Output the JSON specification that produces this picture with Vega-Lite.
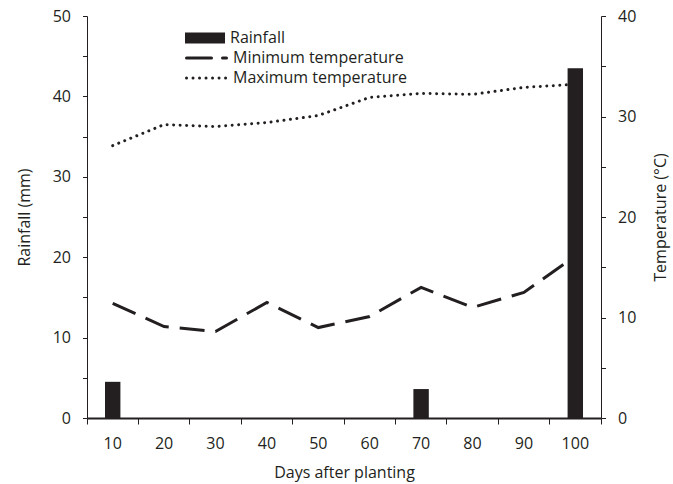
{
  "$schema": "https://vega.github.io/schema/vega-lite/v6.json",
  "width": 514,
  "height": 402,
  "autosize": {"type": "none"},
  "padding": {"left": 87, "top": 16, "right": 72, "bottom": 66},
  "background": "white",
  "config": {
    "view": {"stroke": null},
    "font": "Open Sans",
    "axis": {
      "grid": false,
      "domainColor": "#231f20",
      "tickColor": "#231f20",
      "labelColor": "#231f20",
      "titleColor": "#231f20",
      "labelFont": "Open Sans",
      "titleFont": "Open Sans",
      "labelFontSize": 16,
      "titleFontSize": 16,
      "titleFontWeight": "normal",
      "tickSize": 5
    },
    "legend": {
      "labelFont": "Open Sans",
      "labelFontSize": 16,
      "labelColor": "#231f20",
      "labelLimit": 0
    }
  },
  "data": {
    "values": [
      {"day": 10, "rainfall": 4.5, "tmin": 11.4, "tmax": 27.1},
      {"day": 20, "rainfall": 0, "tmin": 9.1, "tmax": 29.2},
      {"day": 30, "rainfall": 0, "tmin": 8.6, "tmax": 29.0},
      {"day": 40, "rainfall": 0, "tmin": 11.5, "tmax": 29.4},
      {"day": 50, "rainfall": 0, "tmin": 9.0, "tmax": 30.1},
      {"day": 60, "rainfall": 0, "tmin": 10.1, "tmax": 31.9},
      {"day": 70, "rainfall": 3.6, "tmin": 13.0, "tmax": 32.3},
      {"day": 80, "rainfall": 0, "tmin": 11.0, "tmax": 32.2},
      {"day": 90, "rainfall": 0, "tmin": 12.5, "tmax": 32.9},
      {"day": 100, "rainfall": 43.5, "tmin": 16.1, "tmax": 33.2}
    ]
  },
  "layer": [
    {
      "layer": [
        {
          "mark": {"type": "line", "stroke": "#231f20", "strokeWidth": 3, "strokeCap": "butt"},
          "encoding": {
            "x": {
              "field": "day",
              "type": "ordinal",
              "scale": {"paddingInner": 0, "paddingOuter": 0},
              "axis": {
                "orient": "bottom",
                "labels": false,
                "domain": false,
                "title": null,
                "bandPosition": 1,
                "tickExtra": true,
                "tickSize": 6
              }
            },
            "y": {
              "field": "tmin",
              "type": "quantitative",
              "scale": {"domain": [0, 40]},
              "axis": {
                "orient": "right",
                "title": "Temperature (°C)",
                "titleAngle": 270,
                "titlePadding": 33,
                "labelPadding": 12,
                "tickSize": 4.5,
                "values": [0, 5, 10, 15, 20, 25, 30, 35, 40],
                "labelExpr": "datum.value % 10 === 0 ? datum.label : ''",
                "encode": {"ticks": {"update": {"x": {"value": -4.5}}}}
              }
            },
            "strokeDash": {
              "datum": "Minimum temperature",
              "type": "nominal",
              "scale": {
                "domain": ["Minimum temperature", "Maximum temperature"],
                "range": [[25, 11], [0.01, 6.5]]
              },
              "legend": {
                "orient": "none",
                "legendX": 98,
                "legendY": 32,
                "title": null,
                "padding": 0,
                "rowPadding": 0,
                "clipHeight": 20,
                "symbolType": "stroke",
                "symbolSize": 1600,
                "symbolStrokeWidth": 3,
                "symbolStrokeColor": "#231f20",
                "labelOffset": 5,
                "encode": {"symbols": {"update": {"strokeCap": {"value": "round"}}}}
              }
            }
          }
        },
        {
          "mark": {"type": "line", "stroke": "#231f20", "strokeWidth": 3, "strokeCap": "round"},
          "encoding": {
            "x": {"field": "day", "type": "ordinal"},
            "y": {"field": "tmax", "type": "quantitative"},
            "strokeDash": {"datum": "Maximum temperature", "type": "nominal"}
          }
        }
      ]
    },
    {
      "mark": {"type": "bar", "width": {"band": 0.3}},
      "encoding": {
        "x": {
          "field": "day",
          "type": "ordinal",
          "scale": {"paddingInner": 0, "paddingOuter": 0},
          "axis": {
            "orient": "bottom",
            "title": "Days after planting",
            "labelAngle": 0,
            "ticks": false,
            "domainWidth": 2,
            "labelPadding": 17,
            "titlePadding": 13
          }
        },
        "y": {
          "field": "rainfall",
          "type": "quantitative",
          "scale": {"domain": [0, 50]},
          "axis": {
            "orient": "left",
            "title": "Rainfall (mm)",
            "titlePadding": 20,
            "labelPadding": 12,
            "tickSize": 4.5,
            "values": [0, 5, 10, 15, 20, 25, 30, 35, 40, 45, 50],
            "labelExpr": "datum.value % 10 === 0 ? datum.label : ''",
            "encode": {"ticks": {"update": {"x": {"value": 4.5}}}}
          }
        },
        "fill": {
          "datum": "Rainfall",
          "type": "nominal",
          "scale": {"range": ["#231f20"]},
          "legend": {
            "orient": "none",
            "legendX": 98,
            "legendY": 12,
            "title": null,
            "padding": 0,
            "rowPadding": 0,
            "clipHeight": 20,
            "symbolType": "M-1,-0.28H1V0.28H-1Z",
            "symbolSize": 1600,
            "symbolStrokeWidth": 0,
            "labelOffset": 5
          }
        }
      }
    }
  ],
  "resolve": {
    "scale": {"y": "independent", "fill": "independent", "strokeDash": "independent"},
    "axis": {"x": "independent"}
  }
}
